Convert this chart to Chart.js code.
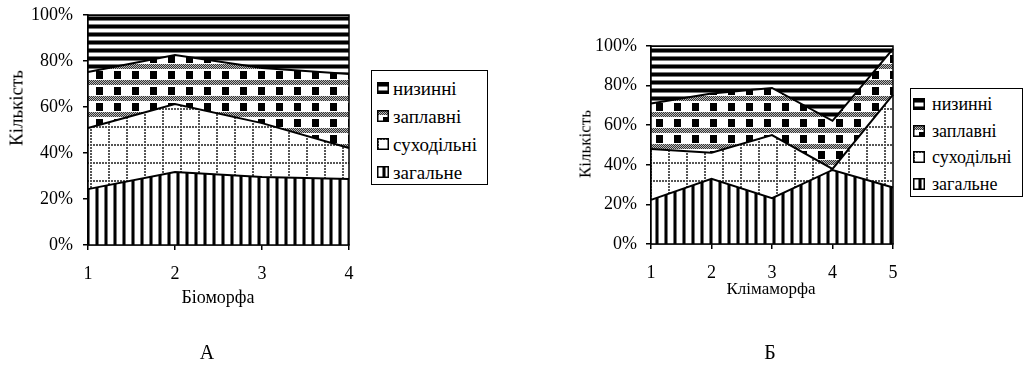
<!DOCTYPE html>
<html><head><meta charset="utf-8">
<script src="https://cdn.jsdelivr.net/npm/chart.js@4/dist/chart.umd.min.js"></script>
<style>
body{margin:0;background:#fff;}
#wrap{position:relative;width:1027px;height:365px;overflow:hidden;background:#fff;font-family:"Liberation Serif","Times New Roman",serif;color:#000;}
.cv{position:absolute;}
.t{position:absolute;white-space:nowrap;transform:translate(-50%,-50%);line-height:1;}
.r{transform:translate(-50%,-50%) rotate(-90deg);}
.legend{position:absolute;border:1px solid #000;box-sizing:border-box;background:#fff;}
.item{position:absolute;left:0;height:0;}
.item canvas{position:absolute;top:-6px;}
.item span{position:absolute;transform:translateY(-50%);white-space:nowrap;line-height:1;font-family:"Liberation Serif","Times New Roman",serif;}
</style></head>
<body><div id="wrap">
<div class="cv" style="left:0;top:0;width:360px;height:300px"><canvas id="cA" width="360" height="300"></canvas></div>
<div class="cv" style="left:560px;top:0;width:340px;height:300px"><canvas id="cB" width="340" height="300"></canvas></div>
<div class="t r" style="left:16px;top:108px;font-size:19px">Кількість</div>
<div class="t" style="left:218px;top:297px;font-size:18px">Біоморфа</div>
<div class="t" style="left:207px;top:352px;font-size:20px">А</div>
<div class="t r" style="left:585px;top:144px;font-size:17px">Кількість</div>
<div class="t" style="left:771px;top:288px;font-size:17px">Клімаморфа</div>
<div class="t" style="left:770px;top:352px;font-size:20px">Б</div>
<div class="legend" id="legA" style="left:371px;top:70px;width:117px;height:115px"></div>
<div class="legend" id="legB" style="left:910px;top:88px;width:113px;height:109px"></div>
</div>
<script>
// ---- data ----
const seriesNames = ['загальне','суходільні','заплавні','низинні'];
const catsA = ['1','2','3','4'];
const zagalneA   = [24.3, 31.7, 29.6, 28.7];
const sukhodilniA= [26.6, 29.6, 23.4, 13.5];
const zaplavniA  = [24.3, 21.3, 24.0, 32.1];
const nyzynniA   = [24.8, 17.4, 23.0, 25.7];
const catsB = ['1','2','3','4','5'];
const zagalneB   = [22.3, 32.9, 23.1, 37.4, 28.5];
const sukhodilniB= [25.7, 13.2, 31.9, 0.5, 47.0];
const zaplavniB  = [23.0, 29.9, 23.8, 24.3, 23.1];
const nyzynniB   = [29.0, 24.0, 21.2, 37.8, 1.4];
const yTicks = [0,20,40,60,80,100];

// ---- patterns ----
function mk(w,h,draw){const c=document.createElement('canvas');c.width=w;c.height=h;const x=c.getContext('2d');x.fillStyle='#fff';x.fillRect(0,0,w,h);draw(x);return c;}
const pVert = mk(9,9,x=>{x.fillStyle='#777';x.fillRect(5,0,1,9);x.fillRect(8,0,1,9);x.fillStyle='#000';x.fillRect(6,0,2,9);});
const pHor = mk(8,8,x=>{x.fillStyle='#777';x.fillRect(0,0,8,1);x.fillRect(0,4,8,1);x.fillStyle='#000';x.fillRect(0,1,8,3);});
const pDot = mk(18,18,x=>{x.fillStyle='#555';for(let i=0;i<18;i+=3){x.fillRect(i,0,2,2);x.fillRect(0,i,2,2);}});
const pChk = mk(18,16,x=>{for(let i=0;i<18;i++)for(let j=0;j<5;j++){x.fillStyle=((i+j)%2)?'#333':'#bbb';x.fillRect(i,j,1,1);}x.fillStyle='#000';x.fillRect(6,7,7,8);});
function pat(c){return document.createElement('canvas').getContext('2d').createPattern(c,'repeat');}
const fills=[pat(pVert),pat(pDot),pat(pChk),pat(pHor)];
const srcCanv=[pVert,pDot,pChk,pHor];

const FONT='"Liberation Serif","Times New Roman",serif';
const borderPlugin={id:'frame',afterDatasetsDraw(ch){const a=ch.chartArea,c=ch.ctx;c.save();c.strokeStyle='#000';c.lineWidth=1.5;c.strokeRect(a.left,a.top,a.right-a.left,a.bottom-a.top);c.restore();}};

function build(id,cats,arrs,cfg){
  const ds=arrs.map((d,i)=>({label:seriesNames[i],data:d,backgroundColor:fills[i],borderColor:'#000',borderWidth:2,pointRadius:0,tension:0,fill:i===0?'origin':'-1'}));
  new Chart(document.getElementById(id),{type:'line',data:{labels:cats,datasets:ds},plugins:[borderPlugin],
   options:{responsive:false,animation:false,devicePixelRatio:1,
    layout:{padding:{top:cfg.top,right:cfg.right,left:0,bottom:0}},
    plugins:{legend:{display:false},tooltip:{enabled:false}},
    elements:{line:{borderJoinStyle:'miter'}},
    scales:{
     x:{offset:false,grid:{display:true,drawOnChartArea:false,drawTicks:true,tickLength:5,color:'#000',lineWidth:1.5},border:{display:true,color:'#000',width:1.5},
        ticks:{color:'#000',font:{family:FONT,size:18},padding:cfg.xpad,maxRotation:0,autoSkip:false},
        afterFit:s=>{s.height=cfg.xh;s.paddingLeft=0;s.paddingRight=0;}},
     y:{stacked:true,min:0,max:100,grid:{display:true,drawOnChartArea:false,drawTicks:true,tickLength:5,color:'#000',lineWidth:1.5},border:{display:true,color:'#000',width:1.5},
        afterBuildTicks:s=>{s.ticks=yTicks.map(v=>({value:v}));},
        ticks:{color:'#000',font:{family:FONT,size:18},padding:cfg.ypad,callback:v=>v+'%'},
        afterFit:s=>{s.width=cfg.yw;s.paddingTop=0;s.paddingBottom=0;}}
    }}});
}
build('cA',catsA,[zagalneA,sukhodilniA,zaplavniA,nyzynniA],{top:15,right:11,xh:55,yw:88,xpad:13,ypad:10});
build('cB',catsB,[zagalneB,sukhodilniB,zaplavniB,nyzynniB],{top:46,right:7,xh:56,yw:91,xpad:13,ypad:9});

function legend(id,ys,swx,txx,fs){
  const L=document.getElementById(id);
  [3,2,1,0].forEach((si,k)=>{
    const it=document.createElement('div');it.className='item';it.style.top=ys[k]+'px';
    const c=document.createElement('canvas');c.width=12;c.height=12;c.style.left=swx+'px';
    const x=c.getContext('2d');x.fillStyle=x.createPattern(srcCanv[si],'repeat');x.fillRect(0,0,12,12);
    x.strokeStyle='#000';x.lineWidth=1.5;x.strokeRect(0.75,0.75,10.5,10.5);
    const s=document.createElement('span');s.textContent=seriesNames[si];s.style.left=txx+'px';s.style.fontSize=fs+'px';
    it.appendChild(c);it.appendChild(s);L.appendChild(it);
  });
}
legend('legA',[17,45,73,101],5,21,19);
legend('legB',[15,41.5,68,94.5],2,21,18);
</script></body></html>
